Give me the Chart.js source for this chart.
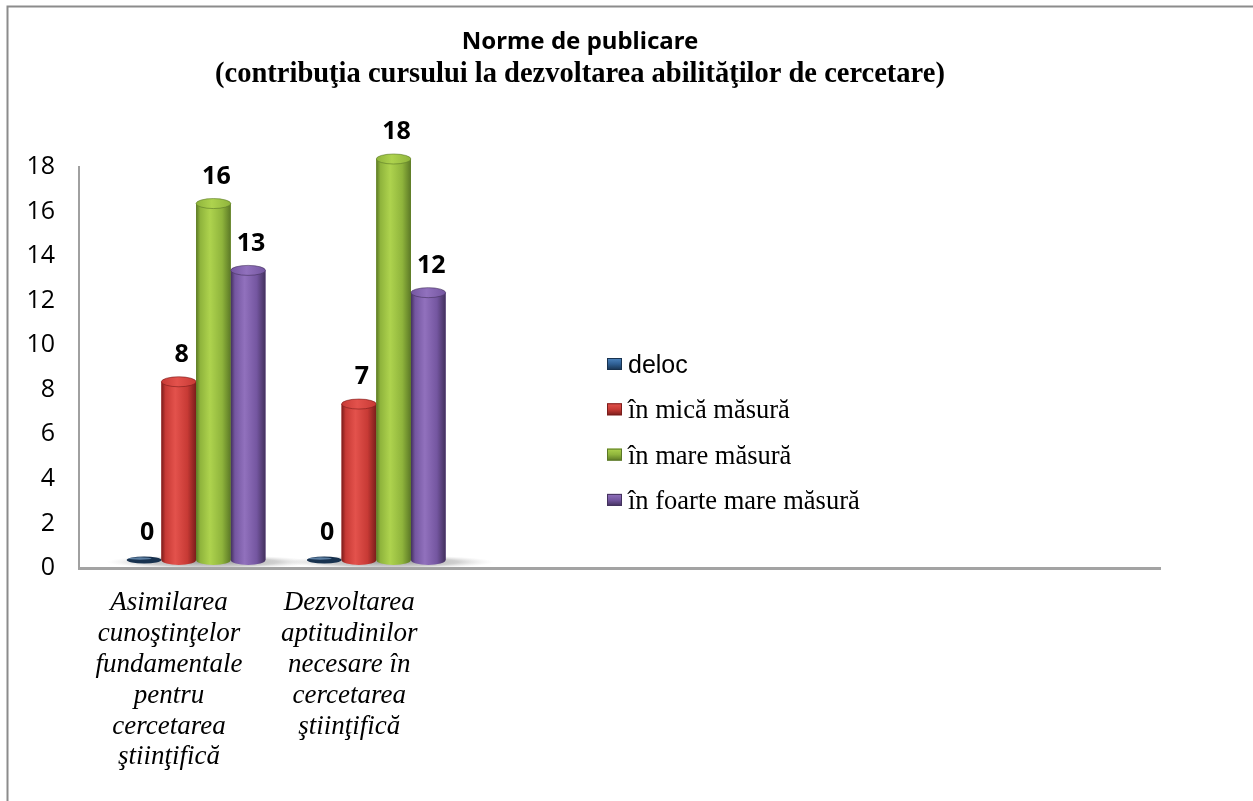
<!DOCTYPE html>
<html>
<head>
<meta charset="utf-8">
<title>Norme de publicare</title>
<script src="https://cdn.jsdelivr.net/npm/chart.js@4.4.1/dist/chart.umd.min.js"></script>
<style>
    html, body { margin: 0; padding: 0; background: #fff; }
    #wrap { width: 1253px; height: 801px; position: relative; }
</style>
</head>
<body>
<div id="wrap"><canvas id="publChart"></canvas></div>
<script>
// categorii (axa X)
const categories = [
    ['Asimilarea', 'cunoştinţelor', 'fundamentale', 'pentru', 'cercetarea', 'ştiinţifică'],
    ['Dezvoltarea', 'aptitudinilor', 'necesare în', 'cercetarea', 'ştiinţifică']
];
// serii
const seriesNames = ['deloc', 'în mică măsură', 'în mare măsură', 'în foarte mare măsură'];
const delocValues = [0, 0];
const micaValues = [8, 7];
const mareValues = [16, 18];
const foarteMareValues = [13, 12];
// ticks axa Y
const yTicks = [0, 2, 4, 6, 8, 10, 12, 14, 16, 18];

const titleText = 'Norme de publicare';
const subtitleText = '(contribuţia cursului la dezvoltarea abilităţilor de cercetare)';

// culori cilindri: [deschis, mediu, inchis]
const shades = [
    ['#4d86c0', '#2f5f93', '#18324f'],
    ['#e3524c', '#c73a35', '#7a1d1b'],
    ['#aed34e', '#8fb43c', '#5b7826'],
    ['#9171bd', '#7456a0', '#43315d']
];

// excel lasa loc pentru inca 4 categorii goale
const xLabels = categories.concat(['', '', '', '']);

// efect 3D: barele sunt mutate putin in dreapta si in sus
const SHIFT_X = 27;
const SHIFT_Y = -8;

const cylinderPlugin = {
    id: 'cylinders',
    beforeDatasetsDraw(chart) {
        const ctx = chart.ctx;
        ctx.save();
        ctx.translate(SHIFT_X, SHIFT_Y);

        // umbra de pe podea sub fiecare grup
        const xs = chart.scales.x;
        const base = chart.scales.y.getPixelForValue(0);
        categories.forEach((c, i) => {
            const cx = xs.getPixelForValue(i) + 14;
            const rx = 104, ry = 7;
            ctx.save();
            ctx.translate(cx, base + 2);
            ctx.scale(1, ry / rx);
            const g = ctx.createRadialGradient(0, 0, 0, 0, 0, rx);
            g.addColorStop(0, 'rgba(110,110,110,0.7)');
            g.addColorStop(0.65, 'rgba(150,150,150,0.45)');
            g.addColorStop(1, 'rgba(210,210,210,0)');
            ctx.fillStyle = g;
            ctx.beginPath();
            ctx.arc(0, 0, rx, 0, Math.PI * 2);
            ctx.fill();
            ctx.restore();
        });
    },
    afterDatasetsDraw(chart) {
        const ctx = chart.ctx;
        chart.data.datasets.forEach((ds, di) => {
            const meta = chart.getDatasetMeta(di);
            const [light, mid, dark] = shades[di];
            meta.data.forEach((bar) => {
                const w = bar.width;
                const left = bar.x - w / 2;
                const ry = 5;
                if (Math.abs(bar.base - bar.y) < 1) {
                    // valoare 0: doar un disc plat
                    ctx.fillStyle = dark;
                    ctx.beginPath();
                    ctx.ellipse(bar.x, bar.base, w / 2, 3.5, 0, 0, Math.PI * 2);
                    ctx.fill();
                    ctx.fillStyle = 'rgba(140,180,220,0.6)';
                    ctx.beginPath();
                    ctx.ellipse(bar.x - 4, bar.base - 1.5, w / 3, 1.2, 0, 0, Math.PI * 2);
                    ctx.fill();
                    return;
                }
                const g = ctx.createLinearGradient(left, 0, left + w, 0);
                g.addColorStop(0, dark);
                g.addColorStop(0.12, mid);
                g.addColorStop(0.4, light);
                g.addColorStop(0.75, mid);
                g.addColorStop(1, dark);
                ctx.fillStyle = g;
                ctx.beginPath();
                ctx.moveTo(left, bar.y);
                ctx.lineTo(left, bar.base);
                ctx.ellipse(bar.x, bar.base, w / 2, ry, 0, Math.PI, 0, true);
                ctx.lineTo(left + w, bar.y);
                ctx.closePath();
                ctx.fill();
                // capacul de sus
                const gt = ctx.createLinearGradient(left, 0, left + w, 0);
                gt.addColorStop(0, mid);
                gt.addColorStop(0.45, light);
                gt.addColorStop(1, mid);
                ctx.fillStyle = gt;
                ctx.beginPath();
                ctx.ellipse(bar.x, bar.y, w / 2, ry, 0, 0, Math.PI * 2);
                ctx.fill();
                ctx.strokeStyle = dark;
                ctx.lineWidth = 0.6;
                ctx.stroke();
            });
        });

        // etichetele cu valori
        ctx.fillStyle = '#000';
        ctx.font = 'bold 25px "Noto Sans"';
        ctx.textAlign = 'center';
        ctx.textBaseline = 'middle';
        chart.data.datasets.forEach((ds, di) => {
            chart.getDatasetMeta(di).data.forEach((bar, i) => {
                ctx.fillText(String(ds.data[i]), bar.x + 3, bar.y - 27);
            });
        });
        ctx.restore();
    }
};

// chenarul si legenda
const framePlugin = {
    id: 'frame',
    beforeDraw(chart) {
        const ctx = chart.ctx;
        ctx.save();
        ctx.fillStyle = '#fff';
        ctx.fillRect(0, 0, chart.width, chart.height);
        ctx.strokeStyle = '#8c8c8c';
        ctx.lineWidth = 2;
        ctx.beginPath();
        ctx.moveTo(chart.width, 6.5);
        ctx.lineTo(7.5, 6.5);
        ctx.lineTo(7.5, chart.height);
        ctx.stroke();
        ctx.restore();
    },
    afterDraw(chart) {
        const ctx = chart.ctx;
        const lx = 607, ly = 364, step = 45.3;
        ctx.save();
        chart.data.datasets.forEach((ds, di) => {
            const y = ly + di * step;
            const [light, mid, dark] = shades[di];
            const g = ctx.createLinearGradient(0, y - 6, 0, y + 6);
            g.addColorStop(0, light);
            g.addColorStop(0.5, mid);
            g.addColorStop(1, dark);
            ctx.fillStyle = g;
            ctx.fillRect(lx, y - 6, 15, 12);
            ctx.strokeStyle = dark;
            ctx.lineWidth = 1;
            ctx.strokeRect(lx + 0.5, y - 5.5, 14, 11);
            ctx.fillStyle = '#000';
            ctx.textAlign = 'left';
            ctx.textBaseline = 'middle';
            ctx.font = di === 0 ? '25px "Liberation Sans"' : '26.5px "Liberation Serif"';
            ctx.fillText(ds.label, lx + 21, y + 2);
        });
        ctx.restore();
    }
};

const datasetsData = [delocValues, micaValues, mareValues, foarteMareValues];

const ctx = document.getElementById('publChart').getContext('2d');
new Chart(ctx, {
    type: 'bar',
    data: {
        labels: xLabels,
        datasets: seriesNames.map((name, i) => ({
            label: name,
            data: datasetsData[i],
            backgroundColor: shades[i][1],
            borderWidth: 0,
            categoryPercentage: 0.77,
            barPercentage: 1,
            clip: false
        }))
    },
    options: {
        responsive: true,
        maintainAspectRatio: false,
        animation: false,
        layout: { padding: { left: 0, right: 93, top: 0, bottom: 0 } },
        plugins: {
            legend: { display: false },
            tooltip: { enabled: false },
            title: {
                display: true,
                text: titleText,
                color: '#000',
                font: { family: '"Noto Sans"', size: 24, weight: 'bold' },
                padding: { top: 28, bottom: 0 }
            },
            subtitle: {
                display: true,
                text: subtitleText,
                color: '#000',
                font: { family: '"Liberation Serif"', size: 28.5, weight: 'bold' },
                padding: { top: 1, bottom: 75 }
            }
        },
        scales: {
            x: {
                grid: { display: false, drawTicks: false },
                border: { display: true, color: '#a3a3a3', width: 3 },
                ticks: {
                    color: '#000',
                    font: { family: '"Liberation Serif"', size: 27, style: 'italic', lineHeight: 1.14 },
                    padding: 20,
                    maxRotation: 0,
                    autoSkip: false
                },
                afterFit: (scale) => { scale.height = 233; }
            },
            y: {
                min: 0,
                max: 18,
                grid: { display: false, drawTicks: false },
                border: { display: true, color: '#a0a0a0', width: 2 },
                afterBuildTicks: (scale) => { scale.ticks = yTicks.map(v => ({ value: v })); },
                ticks: {
                    color: '#000',
                    font: { family: '"Open Sans"', size: 25 },
                    padding: 24
                },
                afterFit: (scale) => { scale.width = 79; }
            }
        }
    },
    plugins: [framePlugin, cylinderPlugin]
});
</script>
</body>
</html>
